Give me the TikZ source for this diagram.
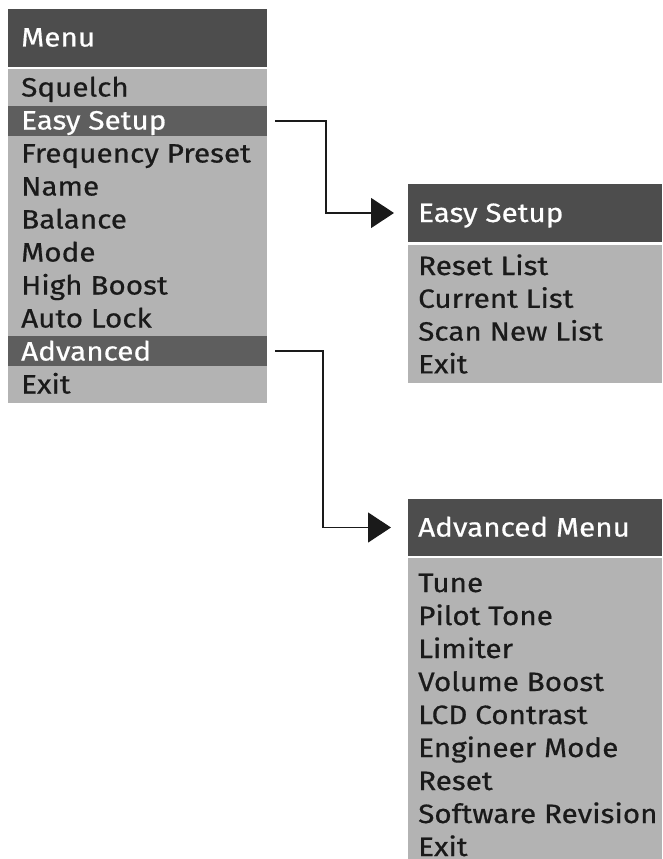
\documentclass[tikz,border=0pt]{standalone}
\usepackage{fontspec}
\setmainfont[FakeStretch=1.12, FakeBold=0.6]{Fira Sans}
\usetikzlibrary{arrows.meta}
\definecolor{headgrey}{HTML}{4D4D4D}
\definecolor{selgrey}{HTML}{5E5E5E}
\definecolor{bodygrey}{HTML}{B3B3B3}
\definecolor{inkgrey}{HTML}{1A1A1A}

\begin{document}
\begin{tikzpicture}[x=1pt, y=-1pt,
    box/.style={anchor=north west, inner sep=0pt, outer sep=0pt},
    headbox/.style={box, fill=headgrey},
    bodybox/.style={box, fill=bodygrey},
    selbox/.style={box, fill=selgrey},
    item/.style={anchor=base west, inner sep=0pt, text=inkgrey, font=\fontsize{26.5}{31}\selectfont},
    title/.style={item, text=white},
    conn/.style={draw=inkgrey, line width=1.3pt, -{Triangle[length=23pt, width=30pt]}}]
    \useasboundingbox (0,0) rectangle (662,859);

    % main menu
    \node[headbox, minimum width=259pt, minimum height=58pt] (menuhead) at (8,9) {};
    \node[bodybox, minimum width=259pt, minimum height=334pt] (menubody) at (8,69) {};
    \node[selbox, minimum width=259pt, minimum height=30pt] (selEasy) at (8,106) {};
    \node[selbox, minimum width=259pt, minimum height=30pt] (selAdv) at (8,336) {};
    \node[title] (menutitle) at (21,46.5) {Menu};
    \foreach \txt/\col [count=\i from 0] in {Squelch/inkgrey, Easy Setup/white,
        Frequency Preset/inkgrey, Name/inkgrey, Balance/inkgrey, Mode/inkgrey,
        High Boost/inkgrey, Auto Lock/inkgrey, Advanced/white, Exit/inkgrey}
        \node[item, text=\col] (m\i) at (21,96.5+33*\i) {\txt};

    % easy setup
    \node[headbox, minimum width=254pt, minimum height=58pt] (eshead) at (408,184) {};
    \node[bodybox, minimum width=254pt, minimum height=138pt] (esbody) at (408,245) {};
    \node[title] (estitle) at (418,222) {Easy Setup};
    \foreach \txt [count=\i from 0] in {Reset List, Current List, Scan New List, Exit}
        \node[item] (es\i) at (418,275+32.8*\i) {\txt};

    % advanced menu
    \node[headbox, minimum width=254pt, minimum height=57pt] (advhead) at (408,499) {};
    \node[bodybox, minimum width=254pt, minimum height=301pt] (advbody) at (408,558) {};
    \node[title] (advtitle) at (418,536.5) {Advanced Menu};
    \foreach \txt [count=\i from 0] in {Tune, Pilot Tone, Limiter, Volume Boost,
        LCD Contrast, Engineer Mode, Reset, Software Revision, Exit}
        \node[item] (adv\i) at (418,592+33*\i) {\txt};

    \draw[conn] ([xshift=8pt]selEasy.east) -- ++(51,0) |- ([xshift=-14pt]eshead.west);
    \draw[conn] ([xshift=8pt]selAdv.east) -- ++(48,0) |- ([xshift=-17pt]advhead.west);
\end{tikzpicture}
\end{document}
